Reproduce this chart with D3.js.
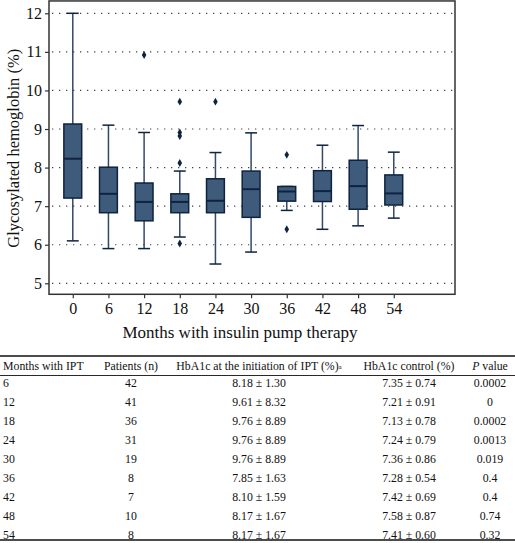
<!DOCTYPE html>
<html><head><meta charset="utf-8">
<script src="https://cdn.jsdelivr.net/npm/d3@7"></script>
<style>body{margin:0;background:#fff}svg{display:block}</style>
</head><body>
<script>
// ---- data ----
const months      = [0, 6, 12, 18, 24, 30, 36, 42, 48, 54];
const whiskerLow  = [6.10, 5.90, 5.90, 6.20, 5.50, 5.81, 6.89, 6.40, 6.49, 6.69];
const q1          = [7.21, 6.83, 6.62, 6.83, 6.83, 6.71, 7.13, 7.12, 6.92, 7.03];
const medians     = [8.23, 7.32, 7.11, 7.11, 7.14, 7.44, 7.38, 7.39, 7.52, 7.33];
const q3          = [9.13, 8.01, 7.60, 7.32, 7.71, 7.91, 7.51, 7.92, 8.19, 7.81];
const whiskerHigh = [12.0, 9.10, 8.91, 7.91, 8.39, 8.90, 7.51, 8.58, 9.09, 8.40];
const outlierMonth = [12, 18, 18, 18, 18, 18, 24, 36, 36];
const outlierValue = [10.92, 9.71, 8.91, 8.82, 8.12, 6.03, 9.71, 8.33, 6.40];
const yTicks = [5, 6, 7, 8, 9, 10, 11, 12];
const xLabel = "Months with insulin pump therapy";
const yLabel = "Glycosylated hemoglobin (%)";

const tableHeader = ["Months with IPT", "Patients (n)", "HbA1c at the initiation of IPT (%)", "HbA1c control (%)", "P value"];
const tableMonths   = ["6", "12", "18", "24", "30", "36", "42", "48", "54"];
const tablePatients = ["42", "41", "36", "31", "19", "8", "7", "10", "8"];
const tableInit     = ["8.18 ± 1.30", "9.61 ± 8.32", "9.76 ± 8.89", "9.76 ± 8.89", "9.76 ± 8.89", "7.85 ± 1.63", "8.10 ± 1.59", "8.17 ± 1.67", "8.17 ± 1.67"];
const tableControl  = ["7.35 ± 0.74", "7.21 ± 0.91", "7.13 ± 0.78", "7.24 ± 0.79", "7.36 ± 0.86", "7.28 ± 0.54", "7.42 ± 0.69", "7.58 ± 0.87", "7.41 ± 0.60"];
const tableP        = ["0.0002", "0", "0.0002", "0.0013", "0.019", "0.4", "0.4", "0.74", "0.32"];

// ---- layout ----
const W = 515, H = 543;
const font = "'Liberation Serif', 'DejaVu Serif', serif";
const boxFill = "#3f5b7b", boxStroke = "#0d2340", whiskColor = "#34496a";
const svg = d3.select("body").append("svg").attr("width", W).attr("height", H);

const x = d3.scaleLinear().domain([-4, 64.3]).range([49, 455]);
const y = d3.scaleLinear().domain([5, 12]).range([283.3, 13.3]);
const yMin = 4.715, yMax = 12.32;
const plotL = x(-4), plotR = x(64.3), plotT = y(yMax), plotB = y(yMin);

// gridlines
svg.append("g").selectAll("line").data(yTicks).join("line")
  .attr("x1", plotL + 3).attr("x2", plotR).attr("y1", d => y(d)).attr("y2", d => y(d))
  .attr("stroke", "#444").attr("stroke-width", 1.2).attr("stroke-dasharray", "1.3,5.7");

// axes
const yAxis = d3.axisLeft(y).tickValues(yTicks).tickFormat(d3.format("d")).tickSize(4).tickPadding(3);
const gy = svg.append("g").attr("transform", `translate(${plotL},0)`).call(yAxis)
  .attr("font-family", font).attr("font-size", 16);
gy.select(".domain").remove();
gy.selectAll("text").attr("fill", "#111");
gy.selectAll("line").attr("stroke", "#333").attr("stroke-width", 1.2);

const xAxis = d3.axisBottom(x).tickValues(months).tickFormat(d3.format("d")).tickSize(4).tickPadding(4);
const gx = svg.append("g").attr("transform", `translate(0,${plotB})`).call(xAxis)
  .attr("font-family", font).attr("font-size", 16);
gx.select(".domain").remove();
gx.selectAll("text").attr("fill", "#111");
gx.selectAll("line").attr("stroke", "#333").attr("stroke-width", 1.2);

// frame
svg.append("rect").attr("x", plotL).attr("y", plotT).attr("width", plotR - plotL).attr("height", plotB - plotT)
  .attr("fill", "none").attr("stroke", "#333").attr("stroke-width", 1.5);

// labels
svg.append("text").attr("x", 240).attr("y", 338).attr("text-anchor", "middle")
  .attr("font-family", font).attr("font-size", 17).attr("fill", "#111").text(xLabel);
svg.append("text").attr("transform", `translate(13,${(y(5) + y(12)) / 2}) rotate(-90)`)
  .attr("text-anchor", "middle").attr("dy", "0.35em").attr("font-family", font).attr("font-size", 16.5).attr("fill", "#111").text(yLabel);

// boxes
const bw = x(3) - x(0), capW = x(2) - x(0);
const boxes = svg.append("g").selectAll("g").data(months.map((m, i) => i)).join("g");
boxes.append("line").attr("x1", i => x(months[i])).attr("x2", i => x(months[i]))
  .attr("y1", i => y(whiskerHigh[i])).attr("y2", i => y(q3[i])).attr("stroke", whiskColor).attr("stroke-width", 1.5);
boxes.append("line").attr("x1", i => x(months[i])).attr("x2", i => x(months[i]))
  .attr("y1", i => y(q1[i])).attr("y2", i => y(whiskerLow[i])).attr("stroke", whiskColor).attr("stroke-width", 1.5);
boxes.append("line").attr("x1", i => x(months[i]) - capW / 2).attr("x2", i => x(months[i]) + capW / 2)
  .attr("y1", i => y(whiskerHigh[i])).attr("y2", i => y(whiskerHigh[i])).attr("stroke", boxStroke).attr("stroke-width", 1.5);
boxes.append("line").attr("x1", i => x(months[i]) - capW / 2).attr("x2", i => x(months[i]) + capW / 2)
  .attr("y1", i => y(whiskerLow[i])).attr("y2", i => y(whiskerLow[i])).attr("stroke", boxStroke).attr("stroke-width", 1.5);
boxes.append("rect").attr("x", i => x(months[i]) - bw / 2).attr("width", bw)
  .attr("y", i => y(q3[i])).attr("height", i => y(q1[i]) - y(q3[i]))
  .attr("fill", boxFill).attr("stroke", boxStroke).attr("stroke-width", 1.5);
boxes.append("line").attr("x1", i => x(months[i]) - bw / 2).attr("x2", i => x(months[i]) + bw / 2)
  .attr("y1", i => y(medians[i])).attr("y2", i => y(medians[i])).attr("stroke", boxStroke).attr("stroke-width", 2);

// outliers
svg.append("g").selectAll("path").data(outlierMonth.map((m, i) => i)).join("path")
  .attr("d", d3.symbol(d3.symbolDiamond, 18))
  .attr("transform", i => `translate(${x(outlierMonth[i])},${y(outlierValue[i])})`)
  .attr("fill", boxStroke);

// ---- table ----
const colX = [3, 131, 259, 409, 490];
const colAnchor = ["start", "middle", "middle", "middle", "middle"];
const tTop = 356, headerY = 366, headerRule = 375.5, rowY0 = 382.5, rowH = 19, tBottom = 540;
const tf = 11.8;
svg.append("line").attr("x1", 0).attr("x2", W).attr("y1", tTop).attr("y2", tTop).attr("stroke", "#111").attr("stroke-width", 1.5);
svg.append("line").attr("x1", 0).attr("x2", W).attr("y1", headerRule).attr("y2", headerRule).attr("stroke", "#111").attr("stroke-width", 0.9);
svg.append("line").attr("x1", 0).attr("x2", W).attr("y1", tBottom).attr("y2", tBottom).attr("stroke", "#111").attr("stroke-width", 1.5);

const hdr = svg.append("g");
tableHeader.forEach((h, c) => {
  const t = hdr.append("text").attr("x", colX[c]).attr("y", headerY).attr("dy", "0.35em")
    .attr("text-anchor", colAnchor[c]).attr("font-family", font).attr("font-size", tf).attr("fill", "#111");
  if (c === 4) {
    t.append("tspan").attr("font-style", "italic").text("P");
    t.append("tspan").text(" value");
  } else if (c === 2) {
    t.append("tspan").text(h);
    t.append("tspan").attr("font-size", 7).attr("dy", "-0.2em").text("a");
  } else t.text(h);
});

const cols = [tableMonths, tablePatients, tableInit, tableControl, tableP];
cols.forEach((col, c) => {
  svg.append("g").selectAll("text").data(col).join("text")
    .attr("x", colX[c]).attr("y", (d, r) => rowY0 + r * rowH).attr("dy", "0.35em")
    .attr("text-anchor", colAnchor[c]).attr("font-family", font).attr("font-size", tf).attr("fill", "#111")
    .text(d => d);
});
</script>
</body></html>
